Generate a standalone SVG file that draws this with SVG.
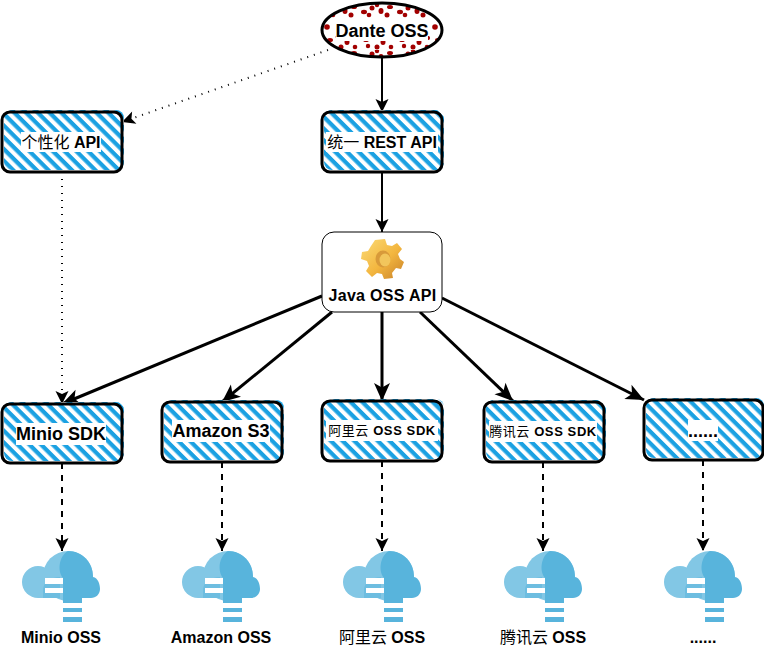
<svg xmlns="http://www.w3.org/2000/svg" width="764" height="647" viewBox="0 0 764 647">
<style>
text{font-family:"Liberation Sans","Noto Sans CJK SC",sans-serif;font-weight:bold;font-size:16px;fill:#000;text-anchor:middle}
.big{font-size:18px}
.sm{font-size:13px;letter-spacing:.6px}
.hatch{fill:url(#hatch)}
.box{fill:none;stroke:#000;stroke-width:3}
.bg{fill:#fff}
.e{fill:none;stroke:#000}
.thick{stroke-width:3;marker-end:url(#arrowL)}
.mid{stroke-width:2;marker-end:url(#arrowM)}
.dash{stroke-width:2;stroke-dasharray:6 6;marker-end:url(#arrowM)}
.dot{stroke-width:2;stroke-dasharray:1 6;marker-end:url(#arrowM)}
</style>
<defs>
<pattern id="hatch" width="8.300" height="8.300" patternUnits="userSpaceOnUse" patternTransform="rotate(45) translate(0 1)">
<rect width="8.300" height="8.300" fill="#fff"/>
<rect x="0" y="0" width="8.300" height="4.200" fill="#1ba1e2"/>
</pattern>
<pattern id="speck" width="36" height="46" patternUnits="userSpaceOnUse" patternTransform="translate(324 4)">
<rect width="36" height="46" fill="#fff"/>
<g fill="#a20000">
<ellipse cx="4" cy="8" rx="3" ry="2.2"/><circle cx="12" cy="4" r="2.5"/><ellipse cx="21" cy="7" rx="2.5" ry="3"/><ellipse cx="30" cy="3" rx="3" ry="2"/>
<circle cx="9" cy="11" r="2.3"/><circle cx="27" cy="11" r="2.5"/><circle cx="17" cy="1" r="2.2"/>
<ellipse cx="6" cy="36" rx="3" ry="2"/><circle cx="14" cy="33" r="2.4"/><ellipse cx="23" cy="38" rx="2.5" ry="3"/><ellipse cx="31" cy="34" rx="3" ry="2.2"/>
<circle cx="17" cy="43" r="2.5"/><circle cx="31" cy="43" r="2.3"/><circle cx="3" cy="23" r="2.8"/><circle cx="8" cy="42" r="2.2"/>
</g>
</pattern>
<marker id="arrowM" markerUnits="userSpaceOnUse" markerWidth="16" markerHeight="16" refX="14" refY="8" orient="auto">
<path d="M1 1.5L14 8L1 14.5L4 8Z" fill="#000"/>
</marker>
<marker id="arrowL" markerUnits="userSpaceOnUse" markerWidth="22" markerHeight="22" refX="19" refY="11" orient="auto">
<path d="M1 3L19 11L1 19L5.5 11Z" fill="#000"/>
</marker>
<linearGradient id="gear" x1="0" y1="0" x2="1" y2="1">
<stop offset="0" stop-color="#fbdc78"/><stop offset="0.55" stop-color="#f3b63f"/><stop offset="1" stop-color="#c8812a"/>
</linearGradient>
<g id="cloud">
<circle cx="16" cy="31" r="16" fill="#82c7e5"/>
<circle cx="46" cy="25" r="25" fill="#82c7e5"/>
<rect x="16" y="30" width="30" height="17" fill="#82c7e5"/>
<path d="M21 47V39C21 31 29 26 38 26V47Z" fill="#6dbde0"/>
<path d="M46 0C60 0 71 11 71 26C76 27 78 33 78 38C78 43 74 47 69 47H60V52H41V27C35 20 37 5 46 0Z" fill="#58b4dc"/>
<rect x="23" y="27" width="18" height="6" fill="#fff"/>
<rect x="23" y="37" width="18" height="5" fill="#fff"/>
<rect x="41" y="57" width="19" height="4" fill="#58b4dc"/>
<rect x="41" y="66" width="19" height="5" fill="#58b4dc"/>
</g>
</defs>
<g id="connectors">
<line class="e dot" x1="328" y1="50" x2="122" y2="122"/>
<line class="e mid" x1="382" y1="57" x2="382" y2="112"/>
<line class="e mid" x1="382" y1="172" x2="382" y2="232"/>
<line class="e dot" x1="62" y1="172" x2="62" y2="404"/>
<line class="e thick" x1="322" y1="296" x2="62" y2="404"/>
<line class="e thick" x1="332" y1="312" x2="222" y2="402"/>
<line class="e thick" x1="382" y1="312" x2="382" y2="401"/>
<line class="e thick" x1="420" y1="312" x2="513" y2="401"/>
<line class="e thick" x1="442" y1="298" x2="644" y2="400"/>
<line class="e dash" x1="62" y1="463" x2="62" y2="551"/>
<line class="e dash" x1="222" y1="462" x2="222" y2="551"/>
<line class="e dash" x1="382" y1="461" x2="382" y2="551"/>
<line class="e dash" x1="543" y1="462" x2="543" y2="551"/>
<line class="e dash" x1="703" y1="460" x2="703" y2="551"/>
</g>
<g id="dante">
<ellipse cx="382" cy="30" rx="60" ry="27" fill="url(#speck)" stroke="#000" stroke-width="3"/>
<rect class="bg" x="336" y="21" width="92" height="20"/>
<text class="big" x="382" y="37">Dante OSS</text>
</g>
<g id="custom-api">
<rect class="hatch" x="4" y="110" width="120" height="60" rx="8"/>
<rect class="box" x="2" y="112" width="120" height="60" rx="8"/>
<rect class="bg" x="21" y="132" width="80" height="20"/>
<text x="61" y="148"><tspan font-weight="normal">个性化</tspan> API</text>
</g>
<g id="rest-api">
<rect class="hatch" x="324" y="110" width="120" height="60" rx="8"/>
<rect class="box" x="322" y="112" width="120" height="60" rx="8"/>
<rect class="bg" x="326" y="132" width="112" height="20"/>
<text x="382" y="148"><tspan font-weight="normal">统一</tspan> REST API</text>
</g>
<g id="java-api">
<rect x="322" y="232" width="120" height="80" rx="12" fill="#fff" stroke="#000" stroke-width="1"/>
<path d="M375 240L385 239L387 245L392 246L397 243L402 249L398 254L400 259L404 262L401 269L396 268L392 273L393 278L384 279L382 274L377 273L372 277L366 271L369 266L367 261L361 259L362 252L368 251L371 246Z" fill="url(#gear)"/>
<ellipse cx="383" cy="259" rx="7.5" ry="8.5" fill="#d89a3a"/>
<ellipse cx="385" cy="260" rx="5.5" ry="6.5" fill="#f2c65c"/>
<text x="382.500" y="301" style="letter-spacing:.3px">Java OSS API</text>
</g>
<g id="minio-sdk">
<rect class="hatch" x="4" y="402" width="120" height="59" rx="8"/>
<rect class="box" x="2" y="404" width="120" height="59" rx="8"/>
<rect class="bg" x="16" y="423" width="90" height="22"/>
<text class="big" x="61" y="440">Minio SDK</text>
</g>
<g id="s3-sdk">
<rect class="hatch" x="164" y="400" width="120" height="60" rx="8"/>
<rect class="box" x="162" y="402" width="120" height="60" rx="8"/>
<rect class="bg" x="172" y="420" width="98" height="22"/>
<text class="big" x="221" y="437">Amazon S3</text>
</g>
<g id="aliyun-sdk">
<rect class="hatch" x="324" y="399" width="120" height="60" rx="8"/>
<rect class="box" x="322" y="401" width="120" height="60" rx="8"/>
<rect class="bg" x="326" y="420" width="112" height="21"/>
<text class="sm" x="382" y="435"><tspan font-weight="normal">阿里云</tspan> OSS SDK</text>
</g>
<g id="tencent-sdk">
<rect class="hatch" x="486" y="400" width="120" height="60" rx="8"/>
<rect class="box" x="484" y="402" width="120" height="60" rx="8"/>
<rect class="bg" x="489" y="421" width="108" height="21"/>
<text class="sm" x="543" y="436"><tspan font-weight="normal">腾讯云</tspan> OSS SDK</text>
</g>
<g id="more-sdk">
<rect class="hatch" x="646" y="398" width="118" height="60" rx="8"/>
<rect class="box" x="644" y="400" width="119" height="60" rx="8"/>
<rect class="bg" x="688" y="420" width="30" height="21"/>
<text class="big" x="703" y="437">......</text>
</g>
<g id="minio-oss"><use href="#cloud" x="22" y="551"/><text x="61" y="643">Minio OSS</text></g>
<g id="amazon-oss"><use href="#cloud" x="182" y="551"/><text x="221" y="643">Amazon OSS</text></g>
<g id="aliyun-oss"><use href="#cloud" x="343" y="551"/><text x="382" y="643"><tspan font-weight="normal">阿里云</tspan> OSS</text></g>
<g id="tencent-oss"><use href="#cloud" x="504" y="551"/><text x="543" y="643"><tspan font-weight="normal">腾讯云</tspan> OSS</text></g>
<g id="more-oss"><use href="#cloud" x="664" y="551"/><text x="703" y="643">......</text></g>
</svg>
